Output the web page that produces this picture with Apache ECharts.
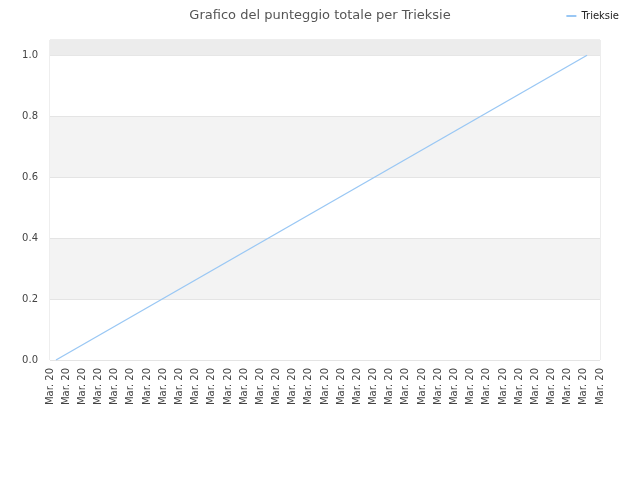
<!DOCTYPE html>
<html>
<head>
<meta charset="utf-8">
<script src="https://cdn.jsdelivr.net/npm/echarts@6/dist/echarts.min.js"></script>
<style>
  html, body { margin: 0; padding: 0; background: #fff; }
  #chart { width: 640px; height: 480px; }
</style>
</head>
<body>
<div id="chart"></div>
<script>
// dati
var tickLabels = [];
for (var i = 0; i < 35; i++) tickLabels.push('Mar. 20');
var seriesX = [0.37, 33.2];
var seriesY = [0, 1];
var seriesName = 'Trieksie';
var yMax = 1.05;

var points = seriesX.map(function (x, i) { return [x, seriesY[i]]; });

var chart = echarts.init(document.getElementById('chart'));
var option = {
  animation: false,
  textStyle: { fontFamily: 'DejaVu Sans' },
  title: {
    text: 'Grafico del punteggio totale per Trieksie',
    left: 'center',
    top: 4,
    textStyle: { fontSize: 13, fontWeight: 'normal', color: '#555', fontFamily: 'DejaVu Sans' }
  },
  legend: {
    right: 16,
    top: 6,
    icon: 'rect',
    itemWidth: 10,
    itemHeight: 2,
    itemGap: 6,
    textStyle: { fontSize: 10, color: '#222' },
    data: [seriesName]
  },
  grid: { left: 50, right: 40, top: 40, bottom: 120, show: true, borderColor: '#dcdcdc', borderWidth: 1 },
  xAxis: {
    type: 'value',
    min: 0,
    max: tickLabels.length - 1,
    interval: 1,
    axisLine: { show: false },
    axisTick: { show: false },
    splitLine: { show: false },
    axisLabel: {
      rotate: 90,
      fontSize: 10,
      color: '#444',
      margin: 8,
      showMinLabel: true,
      showMaxLabel: true,
      formatter: function (v) { return tickLabels[Math.round(v)]; }
    }
  },
  yAxis: {
    type: 'value',
    min: 0,
    max: yMax,
    interval: 0.2,
    axisLine: { show: false },
    axisTick: { show: false },
    axisLabel: {
      fontSize: 10,
      color: '#444',
      margin: 12,
      showMaxLabel: false,
      formatter: function (v) { return v.toFixed(1); }
    },
    splitLine: { show: true, lineStyle: { color: '#e4e4e4', width: 1 } },
    splitArea: { show: true, areaStyle: { color: ['#ffffff', '#f3f3f3'] } }
  },
  series: [{
    name: seriesName,
    type: 'line',
    data: points,
    symbol: 'none',
    lineStyle: { color: '#99c7f4', width: 1.3 },
    itemStyle: { color: '#99c7f4' },
    markArea: {
      silent: true,
      itemStyle: { color: '#ececec' },
      data: [[{ yAxis: 1 }, { yAxis: yMax }]]
    }
  }]
};
chart.setOption(option);
</script>
</body>
</html>
